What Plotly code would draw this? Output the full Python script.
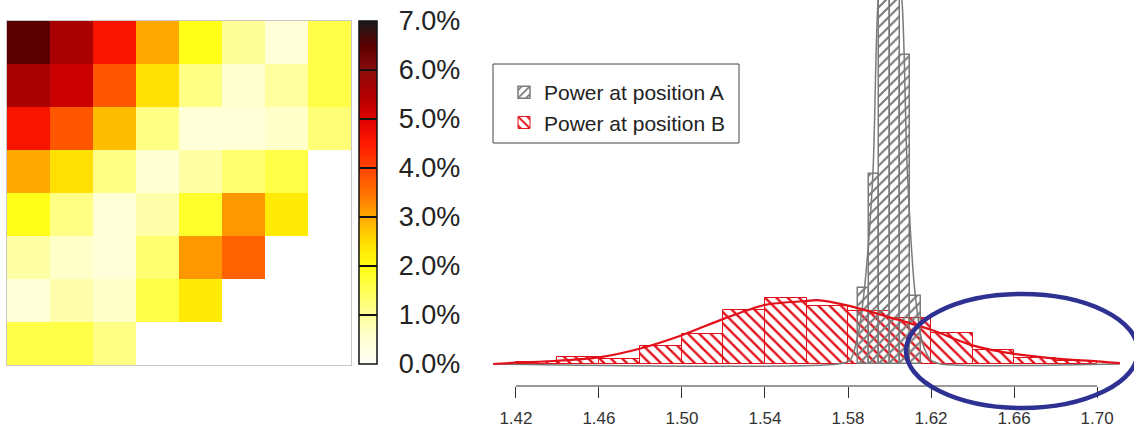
import plotly.graph_objects as go

W, H = 1134, 430

# ---------------- data ----------------
# heatmap (percent values), None = empty cell
HEAT_ROW1 = [6.5, 5.6, 4.6, 3.0, 1.95, 1.0, 0.45, 1.6]
HEAT_ROW2 = [5.6, 5.2, 3.8, 2.45, 1.15, 0.55, 0.95, 1.6]
HEAT_ROW3 = [4.6, 3.8, 2.8, 1.15, 0.45, 0.45, 0.6, 1.25]
HEAT_ROW4 = [3.0, 2.45, 1.15, 0.5, 0.9, 1.3, 1.6, None]
HEAT_ROW5 = [1.95, 1.15, 0.45, 0.85, 1.8, 3.15, 2.3, None]
HEAT_ROW6 = [0.9, 0.6, 0.45, 1.3, 3.15, 3.65, None, None]
HEAT_ROW7 = [0.45, 0.85, 0.6, 1.6, 2.3, None, None, None]
HEAT_ROW8 = [1.6, 1.6, 1.15, None, None, None, None, None]
CBAR_VALS = [0, 1, 2, 3, 4, 5, 6, 7]
CBAR_TEXT = ["0.0%", "1.0%", "2.0%", "3.0%", "4.0%", "5.0%", "6.0%", "7.0%"]

# histogram B (bin width 0.02), density units
B_EDGES = [1.42, 1.44, 1.46, 1.48, 1.50, 1.52, 1.54, 1.56, 1.58, 1.60, 1.62, 1.64, 1.66, 1.68, 1.70]
B_DENS = [0.2, 0.95, 0.7, 2.35, 3.86, 6.98, 8.48, 7.5, 6.77, 5.9, 3.97, 1.75, 0.82, 0.45]
# histogram A (bin width 0.005)
A_EDGES = [1.585, 1.590, 1.595, 1.600, 1.605, 1.610, 1.615]
A_DENS = [9.8, 24.4, 60.0, 57.0, 39.7, 8.7]

# density curves
B_CURVE_X = [1.409, 1.42, 1.44, 1.46, 1.48, 1.50, 1.52, 1.54, 1.56, 1.565, 1.58, 1.60, 1.62, 1.64, 1.66, 1.68, 1.70, 1.711]
B_CURVE_Y = [0.0, 0.17, 0.42, 0.86, 2.0, 3.7, 5.8, 7.6, 8.1, 8.2, 7.5, 6.0, 4.4, 2.4, 1.3, 0.7, 0.35, 0.1]
A_CURVE_X = [1.409, 1.575, 1.581, 1.585, 1.588, 1.592, 1.5945, 1.600, 1.606, 1.6085, 1.6123, 1.6161, 1.620, 1.625, 1.711]
A_CURVE_Y = [0.0, 0.0, 0.5, 4.0, 9.9, 24.5, 46.8, 62.0, 46.8, 25.3, 9.1, 2.5, 0.5, 0.0, 0.0]

X_TICKS = [1.42, 1.46, 1.50, 1.54, 1.58, 1.62, 1.66, 1.70]
X_TICK_TEXT = ["1.42", "1.46", "1.50", "1.54", "1.58", "1.62", "1.66", "1.70"]

NAME_A = "Power at position A"
NAME_B = "Power at position B"

# ---------------- styles ----------------
RED = "#E3101A"
GRAY = "#7A7A7A"
NAVY = "#2E3192"
FONT = "Liberation Sans, Arial, Helvetica, sans-serif"


def px(x):
    return x / W


def py(y):
    return 1 - y / H


heat_z = [HEAT_ROW1, HEAT_ROW2, HEAT_ROW3, HEAT_ROW4, HEAT_ROW5, HEAT_ROW6, HEAT_ROW7, HEAT_ROW8]

colorscale = [
    [0.0, "#FFFFF4"],
    [0.07, "#FFFFD6"],
    [0.143, "#FFFF99"],
    [0.214, "#FFFF55"],
    [0.286, "#FFFF10"],
    [0.357, "#FFDD00"],
    [0.429, "#FFA800"],
    [0.5, "#FF7000"],
    [0.571, "#FF4500"],
    [0.643, "#FF1A00"],
    [0.714, "#DD0000"],
    [0.786, "#B00000"],
    [0.857, "#8A0C0C"],
    [0.93, "#5A0000"],
    [1.0, "#1A1A1A"],
]

fig = go.Figure()

fig.add_trace(go.Heatmap(
    z=heat_z, zmin=0, zmax=7, colorscale=colorscale,
    xaxis="x", yaxis="y", hoverongaps=False,
    colorbar=dict(
        x=px(359), xanchor="left", y=py(364), yanchor="bottom",
        len=343, lenmode="pixels", thickness=18, thicknessmode="pixels",
        xpad=0, ypad=0, outlinewidth=1.5, outlinecolor="#111111",
        tickvals=CBAR_VALS,
        ticktext=["\u00a0\u00a0" + t for t in CBAR_TEXT],
        ticks="inside", ticklen=18, tickwidth=1.5, tickcolor="#111111",
        tickfont=dict(family=FONT, size=27, color="#222222"),
    ),
))

b_centers = [(B_EDGES[i] + B_EDGES[i + 1]) / 2 for i in range(len(B_DENS))]
b_widths = [B_EDGES[i + 1] - B_EDGES[i] for i in range(len(B_DENS))]
a_centers = [(A_EDGES[i] + A_EDGES[i + 1]) / 2 for i in range(len(A_DENS))]
a_widths = [A_EDGES[i + 1] - A_EDGES[i] for i in range(len(A_DENS))]

fig.add_trace(go.Bar(
    x=b_centers, y=B_DENS, width=b_widths, name=NAME_B, legendrank=2,
    xaxis="x2", yaxis="y2",
    marker=dict(color="rgba(0,0,0,0)", line=dict(color=RED, width=1),
                pattern=dict(shape="\\", fgcolor=RED, fgopacity=1,
                             bgcolor="rgba(0,0,0,0)",
                             size=8, solidity=0.3, fillmode="overlay")),
))
fig.add_trace(go.Bar(
    x=a_centers, y=A_DENS, width=a_widths, name=NAME_A, legendrank=1,
    xaxis="x2", yaxis="y2",
    marker=dict(color="rgba(0,0,0,0)", line=dict(color=GRAY, width=1.5),
                pattern=dict(shape="/", fgcolor=GRAY, fgopacity=1,
                             bgcolor="rgba(0,0,0,0)",
                             size=7, solidity=0.3, fillmode="overlay")),
))
fig.add_trace(go.Scatter(
    x=A_CURVE_X, y=A_CURVE_Y, mode="lines", showlegend=False,
    xaxis="x2", yaxis="y2",
    line=dict(color=GRAY, width=1.5, shape="spline", smoothing=0.8),
))
fig.add_trace(go.Scatter(
    x=B_CURVE_X, y=B_CURVE_Y, mode="lines", showlegend=False,
    xaxis="x2", yaxis="y2",
    line=dict(color=RED, width=2.2, shape="spline", smoothing=0.8),
))

shapes = [
    # x-axis line (R style, from first to last tick)
    dict(type="line", xref="x2", yref="paper", x0=X_TICKS[0], x1=X_TICKS[-1],
         y0=py(386), y1=py(386), line=dict(color="#333333", width=1)),
    # legend box
    dict(type="rect", xref="paper", yref="paper", x0=px(493), x1=px(739),
         y0=py(143), y1=py(64), line=dict(color="#444444", width=1)),
    # highlight ellipse
    dict(type="circle", xref="paper", yref="paper", x0=px(906), x1=px(1138),
         y0=py(408), y1=py(294), line=dict(color=NAVY, width=4.5)),
]

fig.update_layout(
    width=W, height=H,
    margin=dict(l=0, r=0, t=0, b=0),
    paper_bgcolor="white", plot_bgcolor="white",
    barmode="overlay", bargap=0,
    showlegend=True,
    legend=dict(x=px(504), y=py(72), xanchor="left", yanchor="top",
                bgcolor="rgba(0,0,0,0)", borderwidth=0,
                font=dict(family=FONT, size=21, color="#222222"),
                itemwidth=30, tracegroupgap=0),
    xaxis=dict(domain=[px(7), px(351)], showgrid=False, zeroline=False,
               showticklabels=False, ticks="", showline=True, mirror=True,
               linecolor="#C8C8C8", linewidth=1, range=[-0.5, 7.5]),
    yaxis=dict(domain=[py(365), py(21)], showgrid=False, zeroline=False,
               showticklabels=False, ticks="", showline=True, mirror=True,
               linecolor="#C8C8C8", linewidth=1, range=[7.5, -0.5]),
    xaxis2=dict(domain=[px(490), px(1123)], range=[1.4075, 1.7125],
                anchor="y2", showgrid=False, zeroline=False, showline=False,
                tickvals=X_TICKS, ticktext=X_TICK_TEXT, ticks="outside",
                ticklen=11, tickwidth=1, tickcolor="#333333",
                ticklabelstandoff=6,
                tickfont=dict(family=FONT, size=17, color="#333333")),
    yaxis2=dict(domain=[py(386), 1.0], range=[-22 / 7.78, 364 / 7.78],
                anchor="x2", visible=False),
    shapes=shapes,
)

fig.write_html("out.html", config={"displayModeBar": False},
               post_script="document.body.style.margin='0px';document.body.style.overflow='hidden';")
